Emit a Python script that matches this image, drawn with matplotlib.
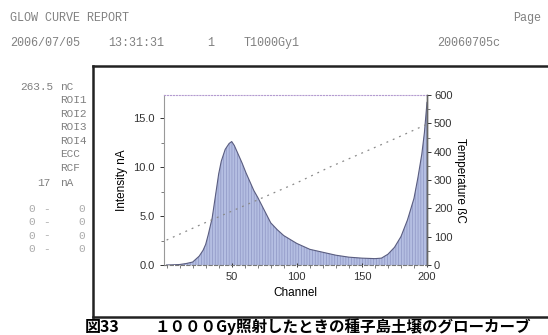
import matplotlib
matplotlib.use('Agg')
import matplotlib.pyplot as plt
from matplotlib.lines import Line2D
from matplotlib.ticker import MultipleLocator

# glow curve (intensity, nA)
channel = [0, 5, 10, 15, 20, 25, 28, 30, 32, 35, 37, 40, 42, 45, 48, 50, 52, 54, 56, 58,
           61, 64, 67, 70, 75, 80, 85, 90, 95, 100, 110, 120, 130, 140, 150, 160, 165,
           170, 175, 180, 185, 190, 193, 196, 198, 200]
intensity = [0.0, 0.02, 0.05, 0.15, 0.3, 0.9, 1.5, 2.1, 3.1, 4.8, 6.6, 9.3, 10.6, 11.8, 12.4,
             12.6, 12.2, 11.6, 11.0, 10.4, 9.4, 8.5, 7.6, 6.9, 5.6, 4.3, 3.6, 3.0, 2.6, 2.2,
             1.6, 1.3, 1.0, 0.8, 0.7, 0.65, 0.7, 1.1, 1.8, 2.9, 4.6, 6.8, 8.9, 11.3, 13.5, 16.6]

# heating profile (temperature)
temp_channel = [0, 25, 50, 75, 100, 125, 150, 175, 200]
temperature = [88, 140, 190, 240, 290, 345, 395, 445, 497]

left_ticks = [0, 5, 10, 15]
right_ticks = [0, 100, 200, 300, 400, 500, 600]
bottom_ticks = [50, 100, 150, 200]

header_row = [(10, '2006/07/05'), (108, '13:31:31'), (207, '1'), (244, 'T1000Gy1'), (437, '20060705c')]
roi_labels = ['ROI1', 'ROI2', 'ROI3', 'ROI4', 'ECC', 'RCF']

W, H = 548, 335
fig = plt.figure(figsize=(W / 100, H / 100), dpi=100)


def fx(px):
    return px / W


def fy(py):
    return 1 - py / H


mono = 'Liberation Mono'
sans = 'Liberation Sans'
grey = '#808080'

# header lines
fig.text(fx(10), fy(18), 'GLOW CURVE REPORT', family=mono, size=8.5, color=grey, va='center')
fig.text(fx(513), fy(18), 'Page', family=mono, size=8.5, color=grey, va='center')
for x, s in header_row:
    fig.text(fx(x), fy(43), s, family=mono, size=8.5, color=grey, va='center')

# summary column on the left
fig.text(fx(53), fy(87), '263.5', family=mono, size=8, color=grey, va='center', ha='right')
fig.text(fx(60), fy(87), 'nC', family=mono, size=8, color=grey, va='center')
for i, s in enumerate(roi_labels):
    fig.text(fx(60), fy(100 + 13.6 * i), s, family=mono, size=8, color=grey, va='center')
fig.text(fx(50), fy(183), '17', family=mono, size=8, color=grey, va='center', ha='right')
fig.text(fx(60), fy(183), 'nA', family=mono, size=8, color=grey, va='center')
for i in range(4):
    y = fy(209 + 13.3 * i)
    fig.text(fx(28), y, '0', family=mono, size=8, color='#aaaaaa', va='center')
    fig.text(fx(43), y, '-', family=mono, size=8, color='#aaaaaa', va='center')
    fig.text(fx(78), y, '0', family=mono, size=8, color='#aaaaaa', va='center')

# report frame
for xs, ys in [([fx(93), 1], [fy(66), fy(66)]),
               ([fx(93), fx(93)], [fy(66), fy(317)]),
               ([fx(93), 1], [fy(317), fy(317)])]:
    fig.add_artist(Line2D(xs, ys, color='#222222', lw=1.8))

# the chart
plt.rcParams['hatch.linewidth'] = 0.5
ax = fig.add_axes([fx(164), fy(265), fx(427) - fx(164), fy(95) - fy(265)])
ax.fill_between(channel, intensity, 0, facecolor='#b4bee2', edgecolor='#8e96c4',
                hatch='||||||', linewidth=0)
ax.plot(channel, intensity, color='#5a5d80', lw=0.8)
ax.set_xlim(-2, 200)
ax.set_ylim(0, 17.35)
ax.set_xticks(bottom_ticks)
ax.xaxis.set_minor_locator(MultipleLocator(10))
ax.set_yticks(left_ticks)
ax.set_yticklabels([f'{v:.1f}' for v in left_ticks])
ax.yaxis.set_minor_locator(MultipleLocator(2.5))
ax.tick_params(labelsize=8, colors='#333333', length=3, width=0.7)
ax.tick_params(which='minor', length=2, width=0.6, colors='#666666')
ax.tick_params(axis='x', direction='inout')
for lab in ax.get_xticklabels() + ax.get_yticklabels():
    lab.set_family(sans)
ax.set_xlabel('Channel', family=sans, size=8.5, labelpad=4)
ax.set_ylabel('Intensity nA', family=sans, size=8.5, labelpad=4)

ax.spines['left'].set(color='#999999', lw=0.8)
ax.spines['top'].set(color='#b49bd0', lw=0.8, linestyle=':')
ax.spines['bottom'].set(color='#777777', lw=0.8, linestyle=(0, (3, 2)))
ax.spines['right'].set(color='#666666', lw=1.0)

ax2 = ax.twinx()
ax2.plot(temp_channel, temperature, color='#8a8a8a', lw=0.9, linestyle=(0, (1.5, 4)))
ax2.set_ylim(0, 600)
ax2.set_yticks(right_ticks)
ax2.yaxis.set_minor_locator(MultipleLocator(50))
ax2.tick_params(labelsize=8, colors='#333333', length=3, width=0.7, pad=2)
ax2.tick_params(which='minor', length=2, width=0.6, colors='#666666')
for lab in ax2.get_yticklabels():
    lab.set_family(sans)
ax2.set_ylabel('Temperature ßC', family=sans, size=8.5, rotation=270, labelpad=10)
for side in ['top', 'left', 'bottom']:
    ax2.spines[side].set_visible(False)
ax2.spines['right'].set(color='#666666', lw=1.0)

# caption
cjk = ['Noto Sans CJK JP', 'DejaVu Sans']
fig.text(fx(85), fy(327), '図33', family=cjk, size=11.5, weight='bold', va='center')
fig.text(fx(155), fy(327), '１０００Gy照射したときの種子島土壌のグローカーブ', family=cjk,
         size=11.2, weight='bold', va='center')

plt.savefig('out.png', dpi=100)
plt.close()
